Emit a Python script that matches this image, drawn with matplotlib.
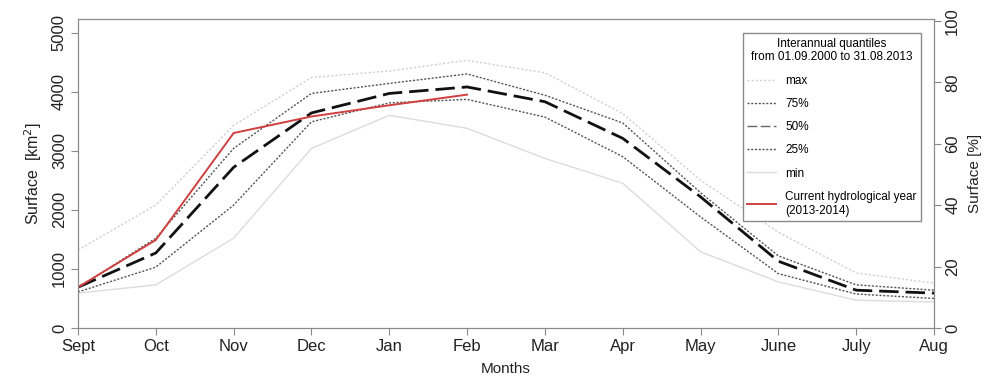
import numpy as np
import matplotlib.pyplot as plt

plt.rcParams['font.family'] = ['Liberation Sans', 'DejaVu Sans']

# Months of the hydrological year
months = ['Sept', 'Oct', 'Nov', 'Dec', 'Jan', 'Feb', 'Mar', 'Apr', 'May', 'June', 'July', 'Aug']

# Interannual quantiles of surface (km2), 2000-2013
q_max = [1320, 2080, 3430, 4240, 4350, 4530, 4320, 3630, 2500, 1620, 930, 760]
q_75 = [680, 1520, 3040, 3970, 4140, 4300, 3940, 3470, 2290, 1220, 730, 640]
q_50 = [690, 1270, 2720, 3640, 3970, 4080, 3830, 3210, 2220, 1130, 640, 590]
q_25 = [610, 1030, 2080, 3490, 3810, 3870, 3570, 2900, 1880, 920, 575, 500]
q_min = [590, 730, 1520, 3040, 3600, 3380, 2870, 2450, 1290, 780, 470, 440]

# Current hydrological year 2013-2014 (Sept to Feb)
current = [690, 1490, 3300, 3580, 3770, 3950]

full_surface = 5195  # km2 that maps to 100 %
ytop = 5230

x = np.arange(len(months))

fig = plt.figure(figsize=(9.91, 3.78), dpi=100)
ax = fig.add_axes([0.0787, 0.1323, 0.8638, 0.8174])

ax.plot(x, q_max, color='#cfcfcf', lw=1.0, ls=(0, (1.5, 1.5)), label='max')
ax.plot(x, q_75, color='#555555', lw=1.0, ls=(0, (1.5, 1.2)), label='75%')
ax.plot(x, q_50, color='#111111', lw=2.0, ls=(0, (7, 2.5)), label='50%')
ax.plot(x, q_25, color='#555555', lw=1.0, ls=(0, (1.5, 1.2)), label='25%')
ax.plot(x, q_min, color='#dcdcdc', lw=1.0, label='min')
ax.plot(x[:len(current)], current, color='#d04040', lw=1.4,
        label='Current hydrological year\n(2013-2014)')

ax.set_xlim(0, len(months) - 1)
ax.set_ylim(0, ytop)
ax.set_xticks(x)
ax.set_xticklabels(months, fontsize=12, color='#222222')
ax.set_yticks([0, 1000, 2000, 3000, 4000, 5000])
ax.set_yticklabels(['0', '1000', '2000', '3000', '4000', '5000'],
                   rotation=90, va='center', fontsize=12, color='#222222')
ax.set_xlabel('Months', fontsize=11, color='#222222', labelpad=6)
ax.set_ylabel('Surface  [km$^2$]', fontsize=11.5, color='#222222', labelpad=6)

for sp in ax.spines.values():
    sp.set_color('#8a8a8a')
ax.tick_params(colors='#8a8a8a', labelcolor='#222222', length=5, pad=3)

ax2 = ax.twinx()
ax2.set_ylim(0, ytop / full_surface * 100)
ax2.set_yticks([0, 20, 40, 60, 80, 100])
ax2.set_yticklabels(['0', '20', '40', '60', '80', '100'],
                    rotation=90, va='center', fontsize=12, color='#222222')
ax2.set_ylabel('Surface [%]', fontsize=11, color='#222222', rotation=90, labelpad=6)
for sp in ax2.spines.values():
    sp.set_color('#8a8a8a')
ax2.tick_params(colors='#8a8a8a', labelcolor='#222222', length=5, pad=3)

leg = ax.legend(loc='upper right', bbox_to_anchor=(0.992, 0.974),
                title='Interannual quantiles\nfrom 01.09.2000 to 31.08.2013',
                fontsize=8.5, title_fontsize=8.5, handlelength=2.4,
                labelspacing=0.95, borderpad=0.4, fancybox=False,
                framealpha=1, edgecolor='#8a8a8a')
leg.get_frame().set_linewidth(1.0)
leg.get_title().set_multialignment('center')
# thinner, greyer dashes for the median in the legend, as in the original
leg.legend_handles[2].set_linewidth(1.0)
leg.legend_handles[2].set_color('#666666')

fig.savefig('out.png', dpi=100)
